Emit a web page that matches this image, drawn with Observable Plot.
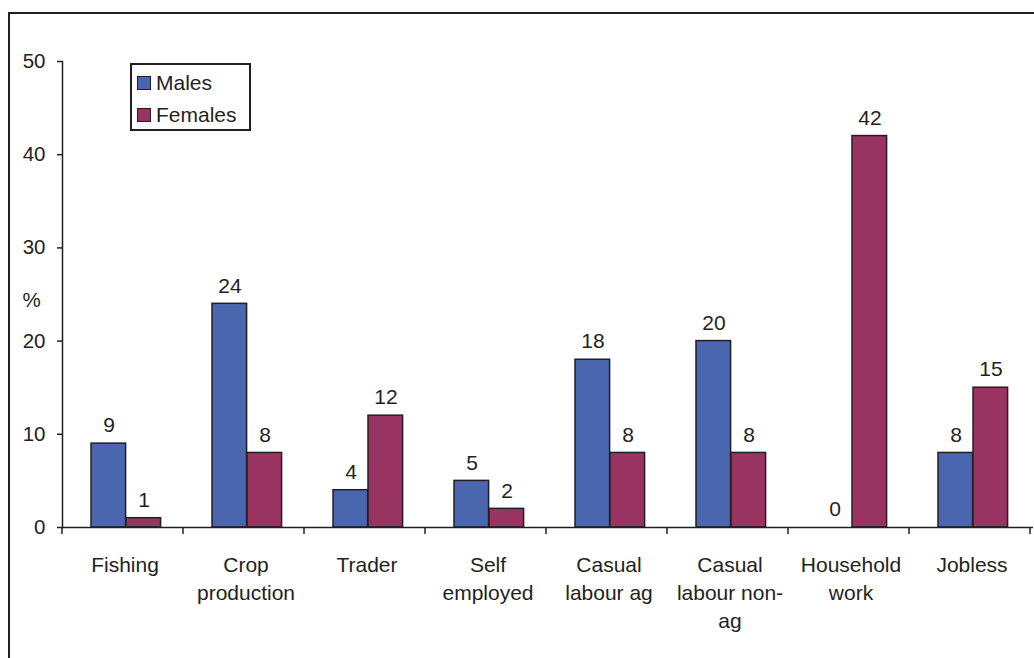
<!DOCTYPE html>
<html><head><meta charset="utf-8">
<script src="https://cdn.jsdelivr.net/npm/d3@7"></script>
<script src="https://cdn.jsdelivr.net/npm/@observablehq/plot@0.6"></script>
<style>
html,body{margin:0;padding:0;background:#fff;overflow:hidden}
#wrap{position:relative;width:1034px;height:658px;font-family:"Liberation Sans",Arial,sans-serif;color:#231f20}
#border{position:absolute;left:8px;top:12px;width:1100px;height:700px;border-top:2px solid #231f20;border-left:2px solid #231f20}
#chart{position:absolute;left:0;top:0}
#legend{position:absolute;left:130px;top:63px;width:117px;height:64px;border:2px solid #231f20;background:#fff}
.item{position:absolute;left:5px;display:flex;align-items:center;font-size:21px;line-height:21px;height:21px}
.sw{width:12px;height:12px;border:1.5px solid #231f20;margin-right:5px}
</style>
</head><body>
<div id="wrap">
  <div id="border"></div>
  <div id="chart"></div>
  <div id="legend"></div>
</div>
<script>
const cats = ["Fishing","Crop production","Trader","Self employed","Casual labour ag","Casual labour non-ag","Household work","Jobless"];
const catLabels = ["Fishing","Crop\nproduction","Trader","Self\nemployed","Casual\nlabour ag","Casual\nlabour non-\nag","Household\nwork","Jobless"];
const males = [9,24,4,5,18,20,0,8];
const females = [1,8,12,2,8,8,42,15];
const yTicks = [0,10,20,30,40,50];
const seriesNames = ["Males","Females"];
const seriesColors = ["#4a66ae","#993462"];
const ink = "#231f20";

const chart = Plot.plot({
  width: 1034,
  height: 658,
  marginTop: 61,
  marginBottom: 131,
  marginLeft: 62,
  marginRight: 1,
  style: {fontFamily: '"Liberation Sans", Arial, sans-serif', color: ink, background: "transparent", overflow: "visible"},
  x: {domain: cats, padding: 0},
  y: {domain: [0, 50]},
  marks: [
    Plot.barY(cats, {x: d => d, y: (d, i) => males[i], insetLeft: 27, insetRight: 59.4, fill: seriesColors[0], stroke: ink, strokeWidth: 1.5}),
    Plot.barY(cats, {x: d => d, y: (d, i) => females[i], insetLeft: 62, insetRight: 24.4, fill: seriesColors[1], stroke: ink, strokeWidth: 1.5}),
    Plot.text(cats, {x: d => d, y: (d, i) => males[i], text: (d, i) => String(males[i]), dx: -16, dy: -18, fontSize: 21, fill: ink}),
    Plot.text(cats, {x: d => d, y: (d, i) => females[i], text: (d, i) => String(females[i]), dx: 19, dy: -18, fontSize: 21, fill: ink}),
    Plot.axisX({tickSize: 0, tickPadding: 25, fontSize: 21, lineHeight: 1.333, label: null, tickFormat: d => catLabels[cats.indexOf(d)]}),
    Plot.axisY({ticks: yTicks, tickSize: 5, tickPadding: 12, fontSize: 20.5, label: null, strokeWidth: 1.5}),
    Plot.ruleY([0], {stroke: ink, strokeWidth: 1.5}),
    Plot.frame({anchor: "left", stroke: ink, strokeWidth: 1.5}),
    Plot.text(["%"], {frameAnchor: "left", textAnchor: "middle", dx: -31, dy: 6, fontSize: 20.5, fill: ink})
  ]
});

// category boundary ticks on the x axis, from Plot's own band scale
const xs = chart.scale("x");
const ys = chart.scale("y");
const y0 = ys.apply(0);
const svg = d3.select(chart.tagName.toLowerCase() === "svg" ? chart : chart.querySelector("svg"));
const g = svg.append("g").attr("stroke", ink).attr("stroke-width", 1.5);
for (let i = 0; i <= cats.length; i++) {
  const x = xs.range[0] + i * xs.step;
  g.append("line").attr("x1", x).attr("x2", x).attr("y1", y0).attr("y2", y0 + 7);
}
document.getElementById("chart").appendChild(chart);

// legend
const leg = d3.select("#legend");
seriesNames.forEach((name, i) => {
  const it = leg.append("div").attr("class", "item").style("top", (7 + i * 32) + "px");
  it.append("div").attr("class", "sw").style("background", seriesColors[i]);
  it.append("span").text(name);
});
</script>
</body></html>
